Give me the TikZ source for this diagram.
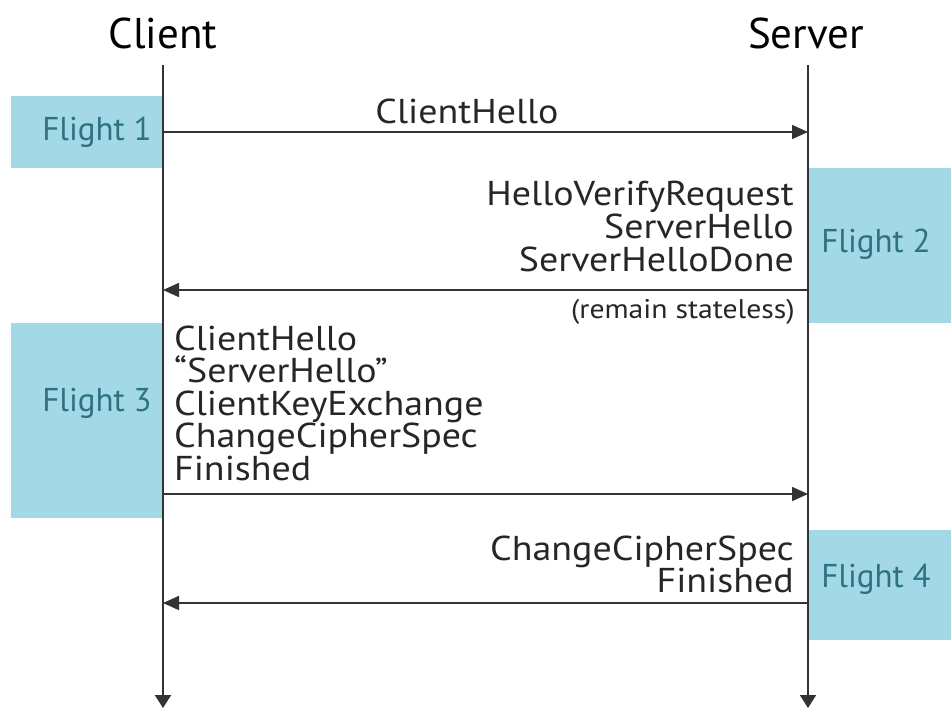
\documentclass[tikz,border=0pt]{standalone}
\usepackage{fontspec}
\setmainfont{PT Sans}
\newfontfamily\msgfont[FakeStretch=1.1]{PT Sans}
\usetikzlibrary{arrows.meta}
\definecolor{flightfill}{HTML}{A3D9E6}
\definecolor{flighttext}{HTML}{2F7184}
\definecolor{lifeline}{HTML}{333333}
\begin{document}
\begin{tikzpicture}[x=1pt,y=-1pt,
  flightlabel/.style={text=flighttext,font=\fontsize{33}{36}\selectfont,inner sep=0pt},
  party/.style={font=\fontsize{43}{46}\selectfont,inner sep=0pt},
  msg/.style={text=black!85,font=\msgfont\fontsize{34.5}{36}\selectfont,inner sep=0pt,
    text height=25pt,text depth=2pt},
  note/.style={text=black!85,font=\msgfont\fontsize{27}{30}\selectfont,inner sep=0pt},
  lifelinestyle/.style={draw=lifeline,line width=2pt,-{Triangle[length=13pt,width=16pt]}},
  msgarrow/.style={draw=lifeline,line width=1.6pt,-{Triangle[length=16pt,width=14pt]}}]
\useasboundingbox (0,0) rectangle (951,713);
% flight bands
\fill[flightfill] (11,96) rectangle (163,168);
\fill[flightfill] (808,168) rectangle (951,323);
\fill[flightfill] (11,323) rectangle (163,518);
\fill[flightfill] (808,530) rectangle (951,640);
\node[flightlabel] (f1) at (97,132) {Flight 1};
\node[flightlabel] (f2) at (876,244) {Flight 2};
\node[flightlabel] (f3) at (97,403) {Flight 3};
\node[flightlabel] (f4) at (876,579) {Flight 4};
% parties and lifelines
\node[party,anchor=base] (client) at (163,48) {Client};
\node[party,anchor=base] (server) at (806,48) {Server};
\coordinate (ctop) at (163,65);
\coordinate (cbot) at (163,708);
\coordinate (stop) at (808,65);
\coordinate (sbot) at (808,708);
\draw[lifelinestyle] (ctop) -- (cbot);
\draw[lifelinestyle] (stop) -- (sbot);
% messages
\coordinate (c1) at (163,132); \coordinate (s1) at (808,132);
\coordinate (c2) at (163,290); \coordinate (s2) at (808,290);
\coordinate (c3) at (163,494); \coordinate (s3) at (808,494);
\coordinate (c4) at (163,603); \coordinate (s4) at (808,603);
\draw[msgarrow] (c1) -- (s1);
\draw[msgarrow] (s2) -- (c2);
\draw[msgarrow] (c3) -- (s3);
\draw[msgarrow] (s4) -- (c4);
\node[msg,anchor=base] (m1) at (467,123) {ClientHello};
\node[msg,anchor=base east] (m2a) at (794,205) {HelloVerifyRequest};
\node[msg,anchor=base east] (m2b) at (794,238) {ServerHello};
\node[msg,anchor=base east] (m2c) at (794,271) {ServerHelloDone};
\node[note,anchor=base east] (n2) at (795,318) {(remain stateless)};
\node[msg,anchor=base west] (m3a) at (174,350) {ClientHello};
\node[msg,anchor=base west] (m3b) at (174,382) {“ServerHello”};
\node[msg,anchor=base west] (m3c) at (174,415) {ClientKeyExchange};
\node[msg,anchor=base west] (m3d) at (174,447) {ChangeCipherSpec};
\node[msg,anchor=base west] (m3e) at (174,480) {Finished};
\node[msg,anchor=base east] (m4a) at (794,560) {ChangeCipherSpec};
\node[msg,anchor=base east] (m4b) at (794,592) {Finished};
\end{tikzpicture}
\end{document}
